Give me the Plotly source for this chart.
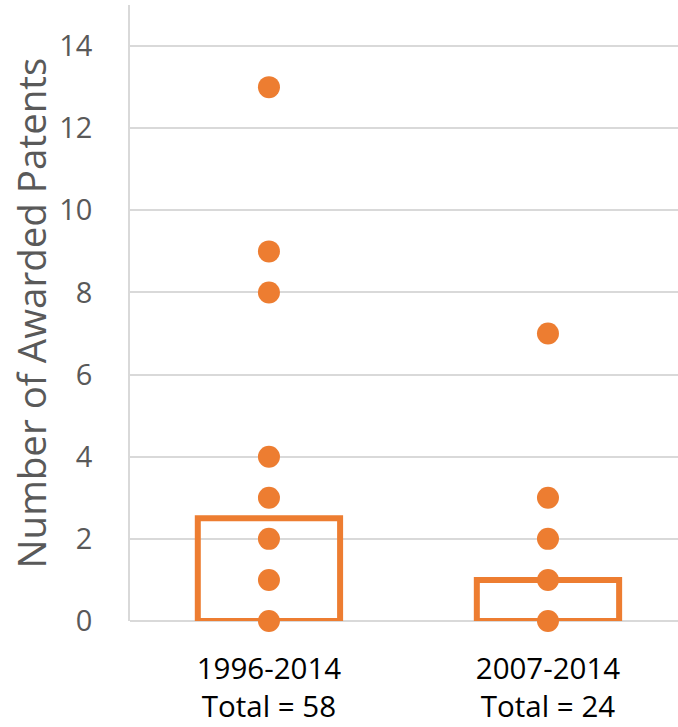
import plotly.graph_objects as go

periods = ["1996-2014", "2007-2014"]
totals = ["Total = 58", "Total = 24"]
bar_values = [2.5, 1]
dots_cat1 = [0, 1, 2, 3, 4, 8, 9, 13]
dots_cat2 = [0, 1, 2, 3, 7]
y_ticks = [0, 2, 4, 6, 8, 10, 12, 14]

ORANGE = "#ED7D31"
GRID = "#d9d9d9"
FONT = "Open Sans"
XRANGE = [-0.498, 1.466]

fig = go.Figure()
fig.add_trace(go.Bar(
    x=[0, 1], y=bar_values, width=0.51,
    marker=dict(color="rgba(0,0,0,0)", line=dict(color=ORANGE, width=6)),
    showlegend=False, hoverinfo="skip",
))
fig.add_trace(go.Scatter(
    x=[0] * len(dots_cat1) + [1] * len(dots_cat2),
    y=dots_cat1 + dots_cat2,
    mode="markers",
    marker=dict(color=ORANGE, size=22),
    cliponaxis=False, showlegend=False,
))
# invisible helper trace so the second tick-label row is rendered
fig.add_trace(go.Scatter(
    x=[0, 1], y=[0, 0], xaxis="x2", mode="markers",
    marker=dict(opacity=0), showlegend=False, hoverinfo="skip",
))

fig.update_layout(
    width=678, height=727,
    margin=dict(l=130, r=0, t=5, b=106),
    plot_bgcolor="white", paper_bgcolor="white",
    font=dict(family=FONT),
    xaxis=dict(
        range=XRANGE, automargin=False,
        tickmode="array", tickvals=[0, 1], ticktext=periods,
        tickfont=dict(size=29.5, color="black", family=FONT),
        showgrid=False, zeroline=False, showline=False,
        ticks="", ticklabelstandoff=27,
    ),
    xaxis2=dict(
        range=XRANGE, overlaying="x", side="bottom", anchor="y", automargin=False,
        tickmode="array", tickvals=[0, 1], ticktext=totals,
        tickfont=dict(size=29.5, color="black", family=FONT),
        showgrid=False, zeroline=False, showline=False,
        ticks="", ticklabelstandoff=65,
    ),
    yaxis=dict(
        range=[0, 15], automargin=False,
        tickmode="array", tickvals=y_ticks,
        tickfont=dict(size=29, color="#595959", family=FONT),
        showgrid=True, gridcolor=GRID, gridwidth=1.5,
        zeroline=True, zerolinecolor=GRID, zerolinewidth=1.5,
        showline=True, linecolor=GRID, linewidth=1.5,
        ticks="", ticklabelstandoff=30,
        title=dict(text="Number of Awarded Patents",
                   font=dict(size=38.5, color="#595959", family=FONT), standoff=1),
    ),
)

fig.write_html("out.html", config={"displayModeBar": False},
               post_script="document.body.style.margin='0';")
